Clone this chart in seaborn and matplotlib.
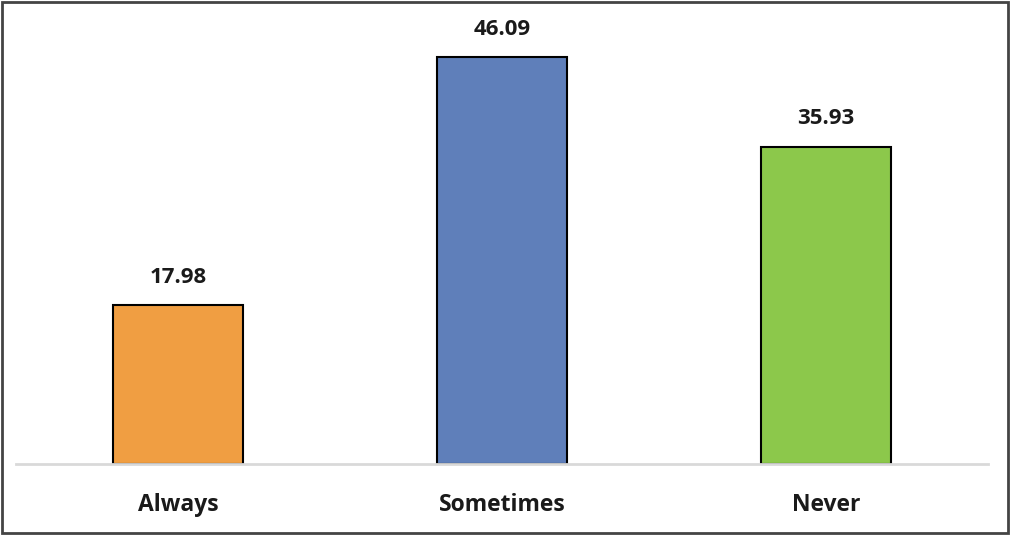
import matplotlib
matplotlib.use("Agg")
import matplotlib.pyplot as plt
import seaborn as sns
import pandas as pd
from matplotlib.patches import Rectangle

categories = ["Always", "Sometimes", "Never"]
values = [17.98, 46.09, 35.93]
colors = ["#F09E42", "#5F7FBA", "#8CC84B"]

sns.set_theme(style="white")
plt.rcParams['font.family'] = ['Open Sans', 'DejaVu Sans']

fig = plt.figure(figsize=(10.11, 5.35), dpi=100)
ax = fig.add_axes([16/1011, (535-464)/535, 972/1011, 441.5/535])

df = pd.DataFrame({"cat": categories, "val": values})
sns.barplot(data=df, x="cat", y="val", hue="cat", palette=colors, legend=False,
            width=0.4, edgecolor="black", linewidth=1.5, saturation=1, ax=ax)

ax.set_ylim(0, 50)
ax.set_xlim(-0.5, 2.5)
for s in ["top", "right", "left"]:
    ax.spines[s].set_visible(False)
ax.spines["bottom"].set_color("#D9D9D9")
ax.spines["bottom"].set_linewidth(2)
ax.set_yticks([])
ax.set_xlabel("")
ax.set_ylabel("")
ax.tick_params(axis="x", length=0, pad=21)
for lbl in ax.get_xticklabels():
    lbl.set_fontweight("bold")
    lbl.set_fontsize(16.5)
    lbl.set_color("#1a1a1a")

for i, v in enumerate(values):
    ax.annotate(f"{v:.2f}", (i, v), xytext=(0, 20), textcoords="offset points",
                ha="center", va="center", fontsize=16, fontweight="bold", color="#1a1a1a")

fig.patches.append(Rectangle((0.002, 0.003), 0.995, 0.993, transform=fig.transFigure,
                             fill=False, edgecolor="#444444", linewidth=2, zorder=10))

fig.savefig("out.png", dpi=100)
